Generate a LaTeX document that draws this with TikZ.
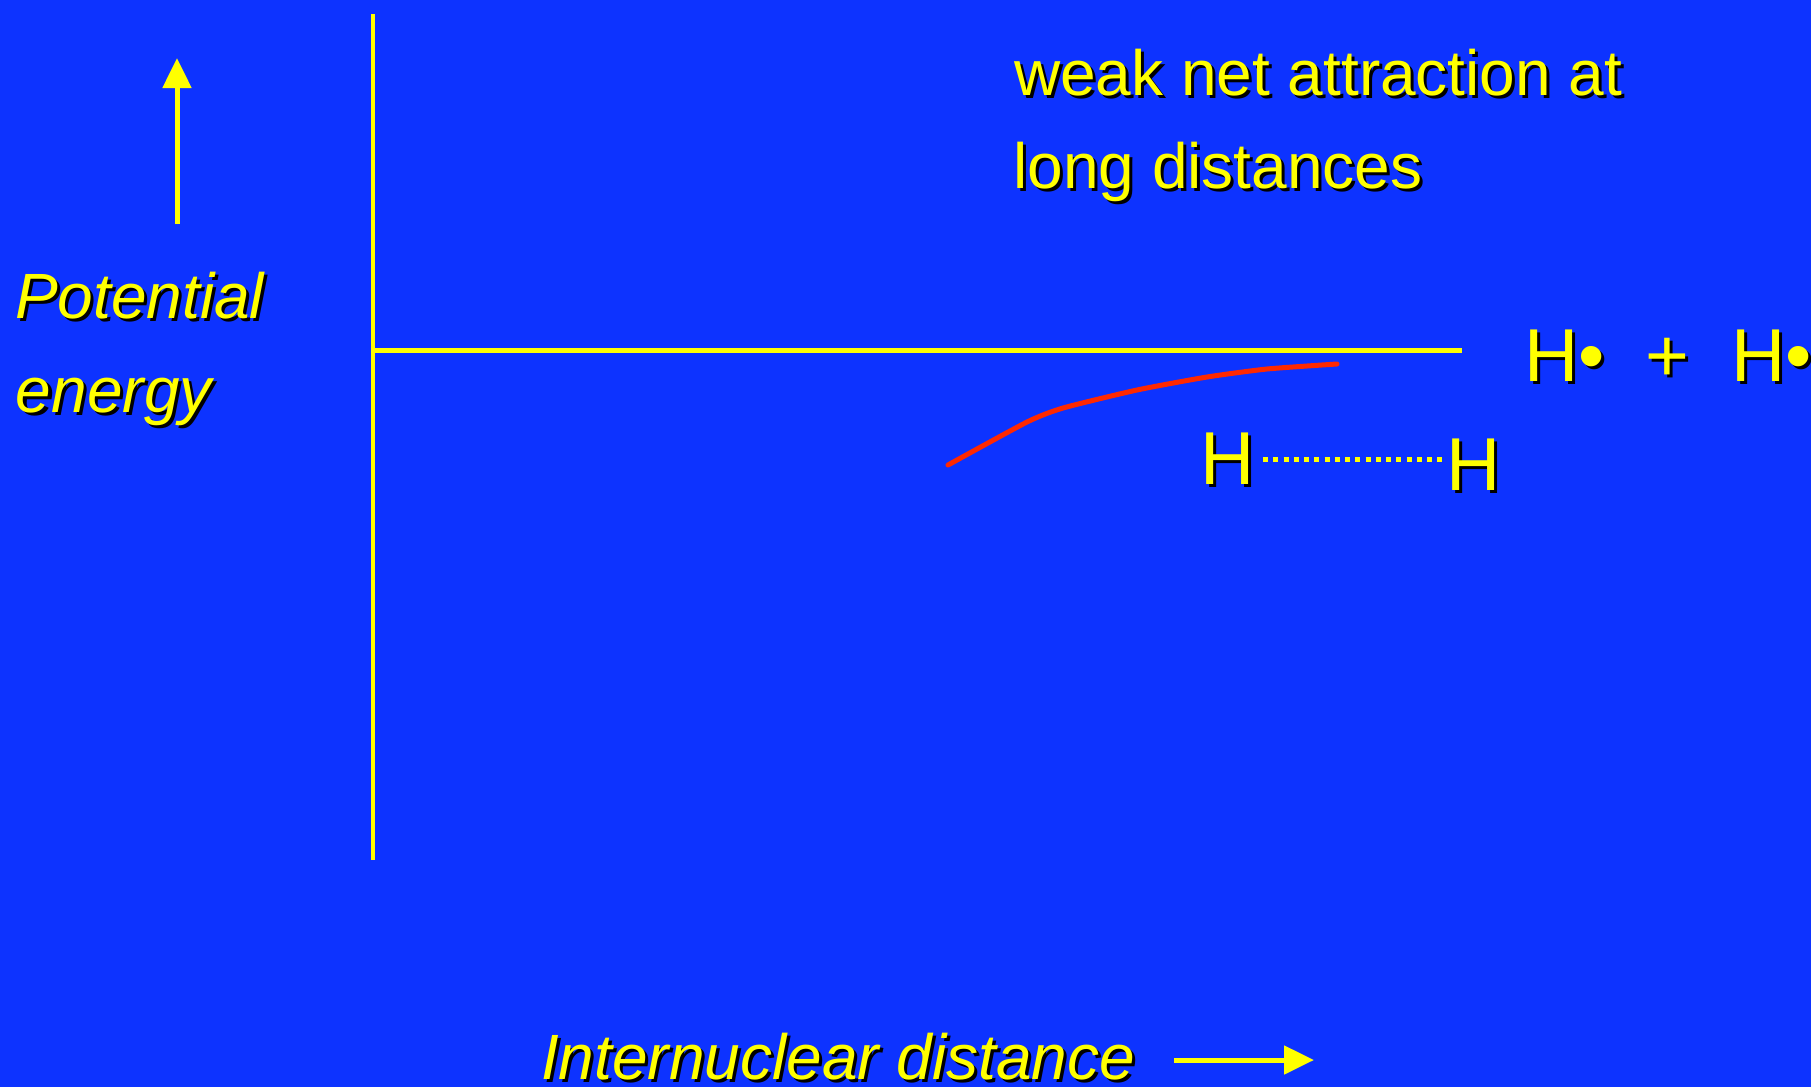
\documentclass[tikz,border=0pt]{standalone}
\usepackage{fontspec}
\setmainfont{Liberation Sans}
\usetikzlibrary{arrows.meta}
\definecolor{bg}{RGB}{13,51,255}
\definecolor{yel}{RGB}{255,255,0}
\definecolor{curvered}{RGB}{255,40,0}
\newcommand\shd[1]{\rlap{\smash{\kern3pt\raisebox{-3pt}{\color{black}#1}}}#1}
\tikzset{
  txt/.style={inner sep=0pt, outer sep=0pt, anchor=base west, text=yel},
  big/.style={font=\fontsize{64}{93}\selectfont},
  bigit/.style={font=\fontsize{64}{93}\selectfont\itshape},
  hfont/.style={font=\fontsize{75}{90}\selectfont},
  axis/.style={draw=yel, line width=4.5pt},
  yarrow/.style={draw=yel, fill=yel, line width=5pt, -{Triangle[length=30pt,width=28pt]}},
  dotline/.style={draw=yel, line width=5pt, dash pattern=on 5pt off 5.25pt},
  energycurve/.style={draw=curvered, line width=5pt, line cap=round, line join=round}
}
\begin{document}
\begin{tikzpicture}[x=1pt,y=-1pt]
\useasboundingbox (0,0) rectangle (1811,1087);
\fill[bg] (0,0) rectangle (1811,1087);
% axes
\coordinate (otop) at (373,14);
\coordinate (origin) at (373,350.5);
\coordinate (obot) at (373,860);
\coordinate (xend) at (1462,350.5);
\draw[axis] (otop) -- (obot);
\draw[axis] (origin) -- (xend);
% arrows
\coordinate (uptail) at (177,224);
\coordinate (uphead) at (177,58);
\draw[yarrow] (uptail) -- (uphead);
\coordinate (rttail) at (1174,1060);
\coordinate (rthead) at (1314,1060);
\draw[yarrow] (rttail) -- (rthead);
% labels
\node[txt,bigit] (pot) at (15,318) {\shd{Potential}};
\node[txt,bigit] (ene) at (16,412) {\shd{energy}};
\node[txt,bigit] (dist) at (541,1079) {\shd{Internuclear distance}};
\node[txt,big] (weak) at (1014,95) {\shd{weak net attraction at}};
\node[txt,big] (long) at (1013.5,188) {\shd{long distances}};
% H + H
\node[txt,hfont] (ha) at (1524,381) {\shd{H•}};
\node[txt,hfont,anchor=base] (plus) at (1667,381) {\shd{+}};
\node[txt,hfont] (hb) at (1731,381) {\shd{H•}};
% H....H
\node[txt,hfont] (h1) at (1200,484) {\shd{H}};
\node[txt,hfont] (h2) at (1446,490) {\shd{H}};
\coordinate (dl) at ([xshift=9pt,yshift=-1pt]h1.east);
\coordinate (dr) at ([xshift=-4pt]h2.west |- dl);
\draw[dotline] (dl) -- (dr);
% red curve
\draw[energycurve] plot[smooth, tension=0.35] coordinates {(948,465) (1027,422) (1063,408) (1137,390) (1207,377) (1267,369) (1337,364)};
\end{tikzpicture}
\end{document}
